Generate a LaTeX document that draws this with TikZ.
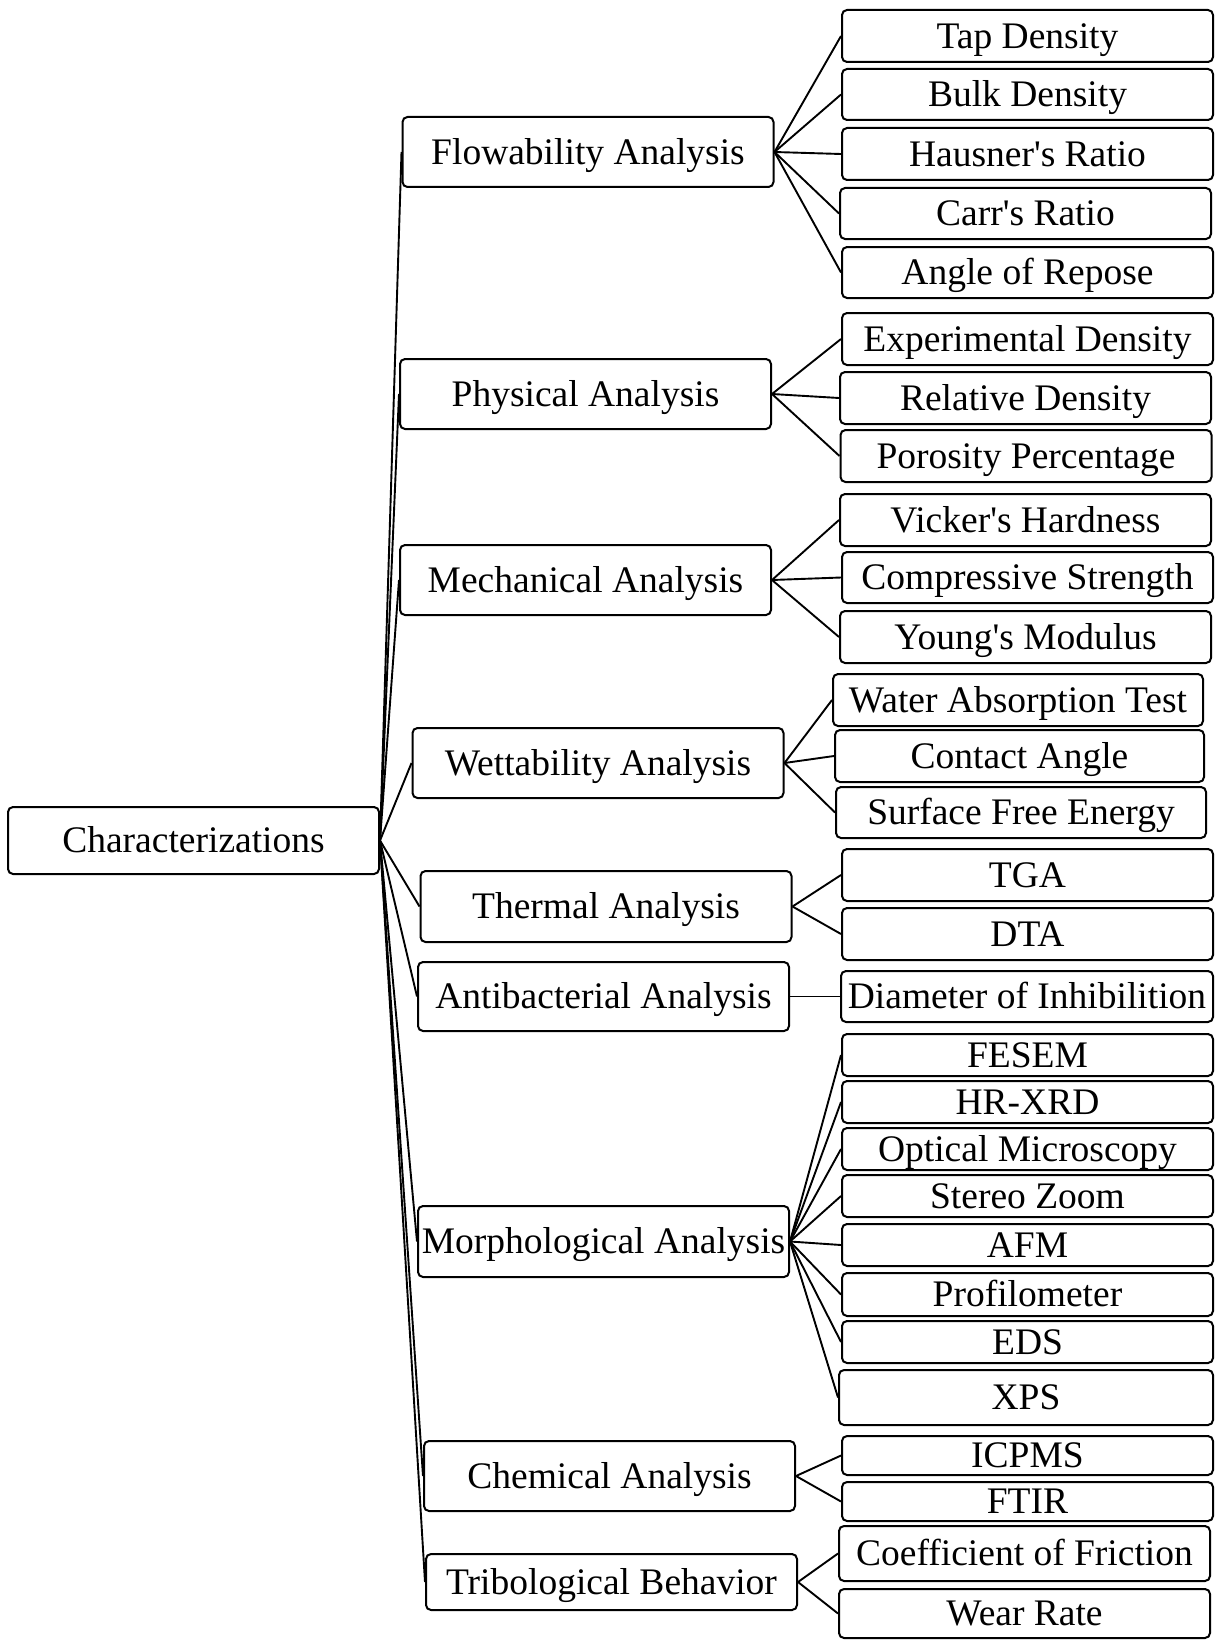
\documentclass[tikz,border=0pt]{standalone}
\usepackage{fontspec}
\setmainfont{Liberation Serif}[Ligatures=TeXOff]
\begin{document}
\begin{tikzpicture}[x=1pt,y=-1pt,
  box/.style={draw, line width=2pt, rounded corners=5pt, inner sep=0pt, align=center,
    font=\fontsize{37.5}{40}\selectfont, minimum width=371pt, text height=26pt, text depth=1.5pt},
  link/.style={line width=1.9pt}]
\useasboundingbox (0,0) rectangle (1216,1640);
% root
\node[box, minimum height=67pt] (root) at (193.5,840.5) {Characterizations};
% middle
\node[box, minimum height=70pt] (flow) at (588,152) {Flowability Analysis};
\node[box, minimum height=70pt] (phys) at (585.5,394) {Physical Analysis};
\node[box, minimum height=70pt] (mech) at (585.5,580) {Mechanical Analysis};
\node[box, minimum height=70pt] (wett) at (598,763) {Wettability Analysis};
\node[box, minimum height=71pt] (therm) at (606,906.5) {Thermal Analysis};
\node[box, minimum height=69pt] (anti) at (603.5,996.5) {Antibacterial Analysis};
\node[box, minimum height=71pt] (morph) at (603.5,1241.5) {Morphological Analysis};
\node[box, minimum height=70pt] (chem) at (609.5,1476) {Chemical Analysis};
\node[box, minimum height=56pt] (trib) at (611.5,1582) {Tribological Behavior};
% right
\node[box, minimum height=52pt] (tap) at (1027.5,36) {Tap Density};
\node[box, minimum height=51pt] (bulk) at (1027.5,94.5) {Bulk Density};
\node[box, minimum height=52pt] (haus) at (1027.5,154) {Hausner's Ratio};
\node[box, minimum height=51pt] (carr) at (1025.5,213.5) {Carr's Ratio};
\node[box, minimum height=51pt] (angle) at (1027.5,272.5) {Angle of Repose};
\node[box, minimum height=52pt] (exp) at (1027.5,339) {Experimental Density};
\node[box, minimum height=52pt] (rel) at (1025.5,398) {Relative Density};
\node[box, minimum height=52pt] (por) at (1026,456) {Porosity Percentage};
\node[box, minimum height=52pt] (vick) at (1025.5,520) {Vicker's Hardness};
\node[box, minimum height=51pt] (comp) at (1027.5,577.5) {Compressive Strength};
\node[box, minimum height=52pt] (young) at (1025.5,637) {Young's Modulus};
\node[box, minimum height=52pt, minimum width=370pt] (water) at (1018,700) {Water Absorption Test};
\node[box, minimum height=52pt, minimum width=369pt] (contact) at (1019.5,756) {Contact Angle};
\node[box, minimum height=51pt, minimum width=370pt] (surf) at (1021,812.5) {Surface Free Energy};
\node[box, minimum height=52pt] (tga) at (1027.5,875) {TGA};
\node[box, minimum height=52pt] (dta) at (1027.5,934) {DTA};
\node[box, minimum height=51pt, minimum width=372pt] (diam) at (1027,996.5) {Diameter of Inhibilition};
\node[box, minimum height=42pt] (fesem) at (1027.5,1055) {FESEM};
\node[box, minimum height=42pt] (hrxrd) at (1027.5,1102) {HR-XRD};
\node[box, minimum height=42pt] (opt) at (1027.5,1149) {Optical Microscopy};
\node[box, minimum height=42pt] (stereo) at (1027.5,1196) {Stereo Zoom};
\node[box, minimum height=42pt] (afm) at (1027.5,1245) {AFM};
\node[box, minimum height=43pt] (prof) at (1027.5,1294.5) {Profilometer};
\node[box, minimum height=42pt] (eds) at (1027.5,1342) {EDS};
\node[box, minimum height=55pt, minimum width=374pt] (xps) at (1026,1397.5) {XPS};
\node[box, minimum height=39pt] (icpms) at (1027.5,1455.5) {ICPMS};
\node[box, minimum height=39pt] (ftir) at (1027.5,1501.5) {FTIR};
\node[box, minimum height=55pt] (cof) at (1024.5,1553.5) {Coefficient of Friction};
\node[box, minimum height=49pt] (wear) at (1024.5,1613.5) {Wear Rate};
% connectors root -> middle
\foreach \m in {flow,phys,mech,wett,therm,anti,morph,chem,trib}
  \draw[link] (root.east) -- (\m.west);
% middle -> right
\foreach \r in {tap,bulk,haus,carr,angle} \draw[link] (flow.east) -- (\r.west);
\foreach \r in {exp,rel,por} \draw[link] (phys.east) -- (\r.west);
\foreach \r in {vick,comp,young} \draw[link] (mech.east) -- (\r.west);
\foreach \r in {water,contact,surf} \draw[link] (wett.east) -- (\r.west);
\foreach \r in {tga,dta} \draw[link] (therm.east) -- (\r.west);
\draw[link] (anti.east) -- (diam.west);
\foreach \r in {fesem,hrxrd,opt,stereo,afm,prof,eds,xps} \draw[link] (morph.east) -- (\r.west);
\foreach \r in {icpms,ftir} \draw[link] (chem.east) -- (\r.west);
\foreach \r in {cof,wear} \draw[link] (trib.east) -- (\r.west);
\end{tikzpicture}
\end{document}
